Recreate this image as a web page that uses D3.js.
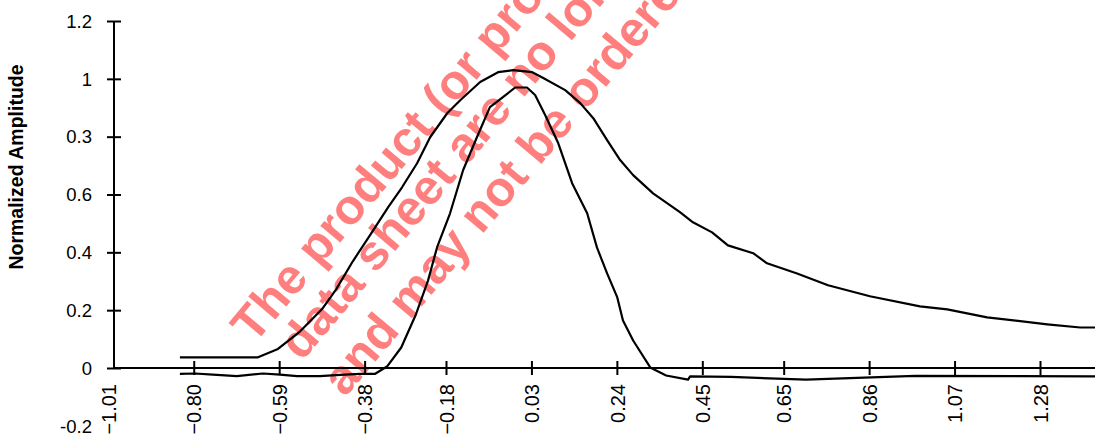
<!DOCTYPE html>
<html>
<head>
<meta charset="utf-8">
<script src="https://cdn.jsdelivr.net/npm/d3@7"></script>
<style>
	body { margin: 0; background: #fff; }
	svg { display: block; font-family: "Liberation Sans", Arial, Helvetica, sans-serif; }
</style>
</head>
<body>
<div class="chart"></div>
<script>
// tick values / labels as printed on the plot
const xTicks = [-1.01, -0.8, -0.59, -0.38, -0.18, 0.03, 0.24, 0.45, 0.65, 0.86, 1.07, 1.28];
const xTickLabels = ["−1.01", "−0.80", "−0.59", "−0.38", "−0.18", "0.03", "0.24", "0.45", "0.65", "0.86", "1.07", "1.28"];
const yTicks = [-0.2, 0, 0.2, 0.4, 0.6, 0.8, 1.0, 1.2];
const yTickLabels = ["-0.2", "0", "0.2", "0.4", "0.6", "0.3", "1", "1.2"];

// wide pulse
const wideX = [-0.834, -0.642, -0.593, -0.539, -0.485, -0.45, -0.409, -0.367, -0.322, -0.288, -0.251, -0.219, -0.177, -0.145, -0.096, -0.052, -0.015, 0.032, 0.059, 0.113, 0.15, 0.182, 0.216, 0.248, 0.28, 0.329, 0.395, 0.427, 0.474, 0.513, 0.575, 0.609, 0.683, 0.759, 0.862, 0.985, 1.052, 1.15, 1.298, 1.379, 1.416];
const wideY = [0.037, 0.037, 0.066, 0.126, 0.203, 0.272, 0.369, 0.459, 0.556, 0.625, 0.708, 0.798, 0.881, 0.926, 0.989, 1.023, 1.03, 1.023, 1.003, 0.961, 0.916, 0.864, 0.788, 0.719, 0.667, 0.604, 0.539, 0.504, 0.469, 0.424, 0.397, 0.362, 0.327, 0.286, 0.248, 0.213, 0.203, 0.175, 0.151, 0.14, 0.14];

// narrow pulse
const narrowX = [-0.834, -0.797, -0.753, -0.694, -0.63, -0.588, -0.546, -0.49, -0.44, -0.391, -0.354, -0.325, -0.29, -0.254, -0.224, -0.202, -0.17, -0.138, -0.104, -0.072, -0.04, -0.01, 0.019, 0.039, 0.064, 0.096, 0.13, 0.167, 0.191, 0.216, 0.241, 0.255, 0.28, 0.322, 0.361, 0.415, 0.42, 0.521, 0.705, 0.973, 1.416];
const narrowY = [-0.02, -0.019, -0.023, -0.028, -0.019, -0.023, -0.028, -0.028, -0.024, -0.02, -0.02, 0.005, 0.071, 0.185, 0.303, 0.417, 0.535, 0.684, 0.798, 0.902, 0.937, 0.97, 0.97, 0.944, 0.874, 0.777, 0.639, 0.535, 0.417, 0.327, 0.244, 0.164, 0.095, 0.002, -0.026, -0.04, -0.029, -0.031, -0.04, -0.027, -0.029];

const yTitle = "Normalized Amplitude";
const watermarkLines = [
	"The product (or products) described in this",
	"data sheet are no longer in production",
	"and may not be ordered."
];

var w = 1095,
	h = 444,
	originX = 114,
	svg;

svg = d3.select(".chart").append("svg").attr("width", w).attr("height", h);

const xScale = d3.scaleLinear().domain([-1.01, 1.28]).range([108.3, 1040]);
const yScale = d3.scaleLinear().domain([0, 1.2]).range([368, 21]);

// watermark sits under the plot lines
const wm = svg
	.append("g")
	.attr("fill", "#ff7f7f")
	.attr("font-weight", "bold")
	.attr("font-size", 49);
const wmPos = [[254, 345], [302, 362], [345, 398]];
watermarkLines.forEach((t, i) => {
	wm.append("text")
		.attr("transform", "translate(" + wmPos[i][0] + "," + wmPos[i][1] + ") rotate(-50)")
		.text(t);
});

// x axis
const xAxis = d3
	.axisBottom(xScale)
	.tickValues(xTicks)
	.tickFormat((d, i) => xTickLabels[i]);

const gx = svg
	.append("g")
	.attr("id", "x-axis")
	.attr("transform", "translate(0," + yScale(0) + ")")
	.call(xAxis);
gx.select(".domain").remove();
gx.selectAll(".tick line")
	.attr("y1", -7)
	.attr("y2", 7)
	.attr("stroke", "#000")
	.attr("stroke-width", 2)
	.attr("display", (d, i) => (i === 0 ? "none" : null));
gx.selectAll(".tick text")
	.attr("transform", "rotate(-90)")
	.attr("x", -16)
	.attr("y", 0)
	.attr("dy", "0.36em")
	.attr("text-anchor", "end")
	.attr("fill", "#000")
	.attr("font-size", 20)
	.attr("font-family", null);

svg.append("line")
	.attr("x1", originX)
	.attr("x2", w)
	.attr("y1", yScale(0))
	.attr("y2", yScale(0))
	.attr("stroke", "#000")
	.attr("stroke-width", 2);

// y axis
const yAxis = d3
	.axisLeft(yScale)
	.tickValues(yTicks)
	.tickFormat((d, i) => yTickLabels[i]);

const gy = svg
	.append("g")
	.attr("id", "y-axis")
	.attr("transform", "translate(" + originX + ",0)")
	.call(yAxis);
gy.select(".domain").remove();
gy.selectAll(".tick line")
	.attr("x1", -7)
	.attr("x2", 7)
	.attr("stroke", "#000")
	.attr("stroke-width", 2)
	.attr("display", (d) => (d < 0 ? "none" : null));
gy.selectAll(".tick text")
	.attr("x", -22)
	.attr("dy", "0.34em")
	.attr("fill", "#000")
	.attr("font-size", 18.5)
	.attr("font-family", null);

svg.append("line")
	.attr("x1", originX)
	.attr("x2", originX)
	.attr("y1", yScale(1.2))
	.attr("y2", yScale(0) + 1)
	.attr("stroke", "#000")
	.attr("stroke-width", 2);

svg.append("text")
	.attr("transform", "translate(23,167) rotate(-90)")
	.attr("text-anchor", "middle")
	.attr("font-weight", "bold")
	.attr("font-size", 19.5)
	.text(yTitle);

// pulses
const line = d3
	.line()
	.x((d) => xScale(d[0]))
	.y((d) => yScale(d[1]));

[d3.zip(wideX, wideY), d3.zip(narrowX, narrowY)].forEach((pts) => {
	svg.append("path")
		.datum(pts)
		.attr("d", line)
		.attr("fill", "none")
		.attr("stroke", "#000")
		.attr("stroke-width", 2.2)
		.attr("stroke-linejoin", "round");
});
</script>
</body>
</html>
